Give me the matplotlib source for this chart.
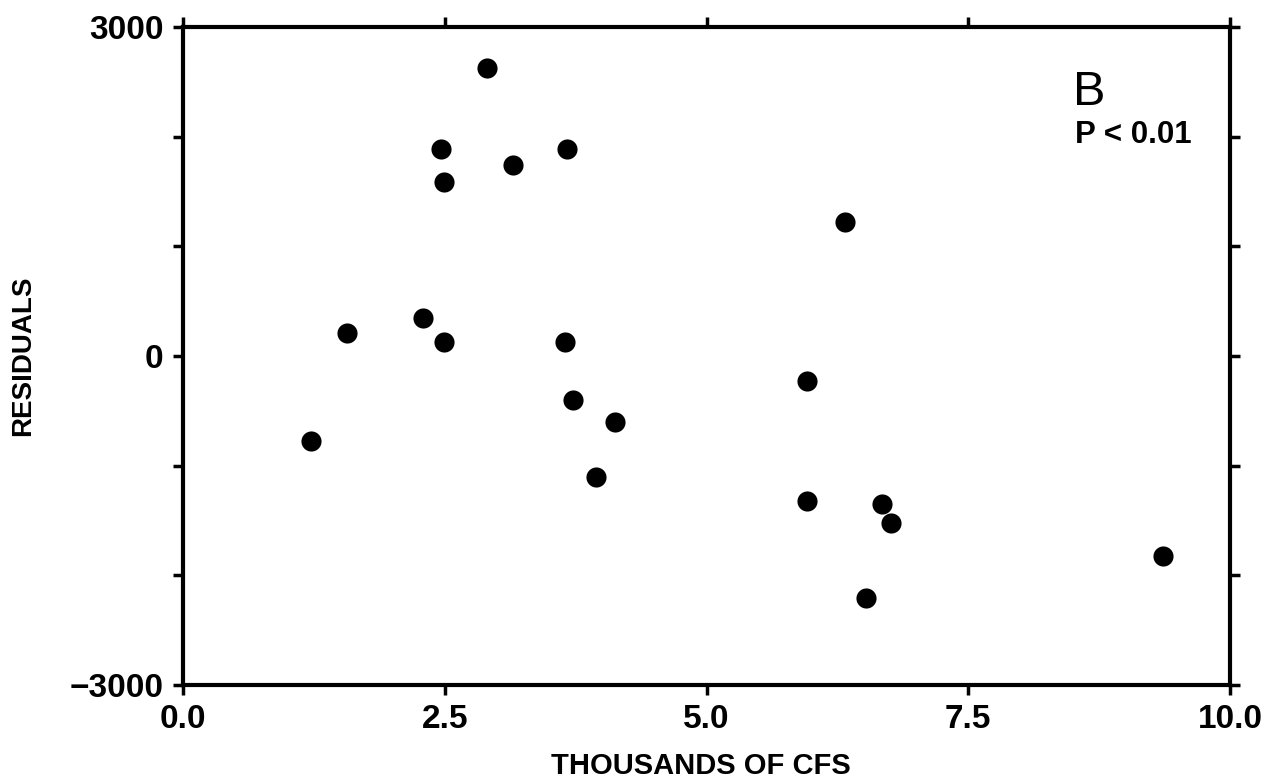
import matplotlib

matplotlib.use("Agg")
from matplotlib import pyplot as plt  # noqa: E402

# discharge (thousands of cfs) vs. regression residuals
flow = [1.22, 1.57, 2.29, 2.46, 2.49, 2.49, 2.90, 3.15, 3.67, 3.65,
        3.72, 3.94, 4.13, 5.96, 5.96, 6.32, 6.52, 6.68, 6.76, 9.36]
resid = [-775, 210, 346, 1887, 1586, 128, 2625, 1741, 1887, 128,
         -401, -1103, -602, -228, -1322, 1222, -2206, -1349, -1522, -1823]

x_ticks = [0.0, 2.5, 5.0, 7.5, 10.0]
x_labels = ["0.0", "2.5", "5.0", "7.5", "10.0"]
y_ticks = [-3000, -2000, -1000, 0, 1000, 2000, 3000]
y_labels = ["\u22123000", "", "", "0", "", "", "3000"]

FONT = ["Liberation Sans", "DejaVu Sans"]
plt.rcParams["font.family"] = FONT

fig = plt.figure(figsize=(12.86, 7.83), dpi=100)
fig.patch.set_facecolor("white")
ax = fig.add_axes([0.1423, 0.1252, 0.8142, 0.8403])

ax.scatter(flow, resid, s=210, color="black", zorder=3, linewidths=0)

ax.set_xlim(0, 10)
ax.set_ylim(-3000, 3000)
ax.set_xticks(x_ticks)
ax.set_xticklabels(x_labels, fontsize=24, fontweight="bold")
ax.set_yticks(y_ticks)
ax.set_yticklabels(y_labels, fontsize=24, fontweight="bold")

for s in ax.spines.values():
    s.set_linewidth(3)
ax.tick_params(direction="out", length=7, width=2.5, top=True, right=True,
               pad=7)

ax.set_xlabel("THOUSANDS OF CFS", fontsize=21, fontweight="bold")
ax.xaxis.set_label_coords(0.495, -0.102)
ax.set_ylabel("RESIDUALS", fontsize=20, fontweight="bold")
ax.yaxis.set_label_coords(-0.14, 0.5)

ax.text(0.850, 0.881, "B", transform=ax.transAxes, fontsize=35,
        fontweight="normal", ha="left", va="baseline")
ax.text(0.852, 0.824, "P < 0.01", transform=ax.transAxes, fontsize=22.5,
        fontweight="bold", ha="left", va="baseline")

fig.savefig("out.png", dpi=100, facecolor="white")
plt.close(fig)
